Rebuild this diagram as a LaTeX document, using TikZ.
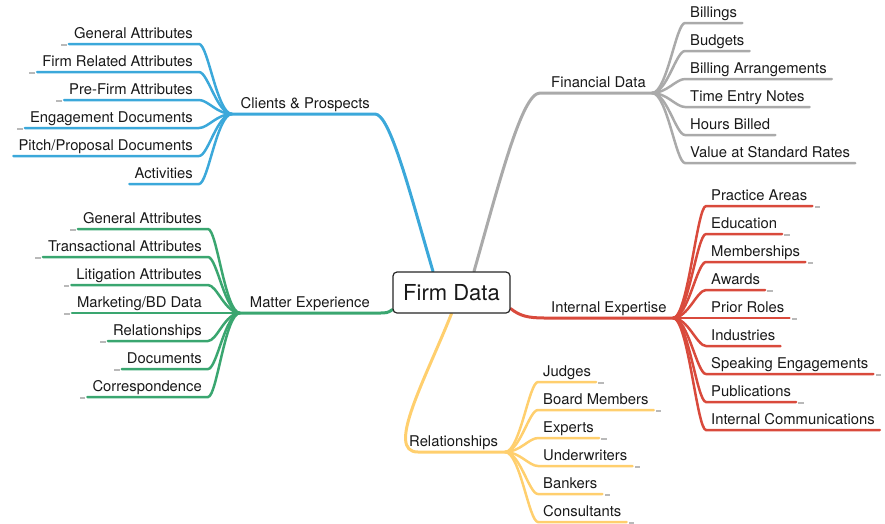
\documentclass[tikz,border=0pt]{standalone}
\usepackage{fontspec}
\setmainfont{TeX Gyre Heros}
\usetikzlibrary{calc}
\definecolor{cblue}{RGB}{59,168,218}
\definecolor{cgreen}{RGB}{58,166,112}
\definecolor{cgray}{RGB}{170,170,170}
\definecolor{cred}{RGB}{217,74,60}
\definecolor{cyellow}{RGB}{255,207,110}
\definecolor{cdash}{RGB}{185,185,185}
\definecolor{ctext}{RGB}{25,25,25}
\pgfdeclarelayer{bg}
\pgfsetlayers{bg,main}
\newcommand\leafL[6]{%
  \node[leaf,anchor=base east] (#1) at (#4,#5-6) {#6};
  \draw[#3] (#2) .. controls +(-15,0) and +(9,0) .. ([shift={(6,6)}]#1.base east) -- ([shift={(-5,6)}]#1.base west);
}
\newcommand\leafR[6]{%
  \node[leaf,anchor=base west] (#1) at (#4,#5-6) {#6};
  \draw[#3] (#2) .. controls +(15,0) and +(-9,0) .. ([shift={(-5,6)}]#1.base west) -- ([shift={(5,6)}]#1.base east);
}
\newcommand\foldL[1]{\node[fold,anchor=east] (#1f) at ([shift={(-7,7)}]#1.base west) {};}
\newcommand\foldR[1]{\node[fold,anchor=west] (#1f) at ([shift={(7,7)}]#1.base east) {};}
\begin{document}
\begin{tikzpicture}[x=1pt,y=-1pt,
  leaf/.style={inner sep=0pt,text=ctext,font=\fontsize{14.8}{17}\selectfont},
  branchlabel/.style={inner sep=0pt,text=ctext,font=\fontsize{14.8}{17}\selectfont},
  fold/.style={rectangle,fill=cdash,draw=none,inner sep=0pt,minimum width=5.5pt,minimum height=2.5pt},
  root/.style={draw=black!85,line width=1.2pt,rounded corners=4pt,fill=white,minimum width=117pt,minimum height=41pt,inner sep=0pt,text=ctext,font=\fontsize{22}{26}\selectfont},
  lb/.style={cblue,line width=2.5pt,line cap=round},
  lg/.style={cgreen,line width=2.5pt,line cap=round},
  lgr/.style={cgray,line width=2.5pt,line cap=round},
  lr/.style={cred,line width=2.5pt,line cap=round},
  ly/.style={cyellow,line width=2.5pt,line cap=round},
  main/.style={line width=3pt,line cap=round}]
\useasboundingbox (0,0) rectangle (885,523);

% root
\node[root] (root) at (451.5,292.5) {Firm Data};

% hubs
\coordinate (B) at (232,114);
\coordinate (G) at (240,313);
\coordinate (F) at (652,93);
\coordinate (R) at (673,318);
\coordinate (Y) at (505,452);

% main branches
\begin{pgfonlayer}{bg}
\draw[lb,main] ($(root.north)+(-18.5,0)$) .. controls (410,193) and (390,114) .. (375,114) -- (B);
\draw[lgr,main] ($(root.north)+(22.5,0)$) .. controls (500,180) and (522,93) .. (540,93) -- (F);
\draw[lg,main] ($(root.south west)+(0,-4)$) .. controls (388,313) and (386,313) .. (378,313) -- (G);
\draw[lr,main] ($(root.south east)+(0,-5)$) .. controls (520,316) and (528,318) .. (545,318) -- (R);
\draw[ly,main] (root.south) .. controls (425,380) and (385,452) .. (418,452) -- (Y);
\end{pgfonlayer}

% branch labels
\node[branchlabel,anchor=base east] (lc) at (370,108) {Clients \& Prospects};
\node[branchlabel,anchor=base east] (lm) at (370,307) {Matter Experience};
\node[branchlabel,anchor=base west] (lf) at (551,87) {Financial Data};
\node[branchlabel,anchor=base west] (li) at (551,312) {Internal Expertise};
\node[branchlabel,anchor=base west] (lrel) at (409,446) {Relationships};

% Clients & Prospects
\leafL{c1}{B}{lb}{193}{44}{General Attributes}\foldL{c1}
\leafL{c2}{B}{lb}{193}{72}{Firm Related Attributes}\foldL{c2}
\leafL{c3}{B}{lb}{193}{100}{Pre-Firm Attributes}\foldL{c3}
\leafL{c4}{B}{lb}{193}{128}{Engagement Documents}\foldL{c4}
\leafL{c5}{B}{lb}{193}{156}{Pitch/Proposal Documents}
\leafL{c6}{B}{lb}{193}{184}{Activities}

% Matter Experience
\leafL{m1}{G}{lg}{202}{229}{General Attributes}\foldL{m1}
\leafL{m2}{G}{lg}{202}{257}{Transactional Attributes}\foldL{m2}
\leafL{m3}{G}{lg}{202}{285}{Litigation Attributes}\foldL{m3}
\leafL{m4}{G}{lg}{202}{313}{Marketing/BD Data}\foldL{m4}
\leafL{m5}{G}{lg}{202}{341}{Relationships}\foldL{m5}
\leafL{m6}{G}{lg}{202}{369}{Documents}\foldL{m6}
\leafL{m7}{G}{lg}{202}{397}{Correspondence}\foldL{m7}

% Financial Data
\leafR{f1}{F}{lgr}{690}{23}{Billings}
\leafR{f2}{F}{lgr}{690}{51}{Budgets}
\leafR{f3}{F}{lgr}{690}{79}{Billing Arrangements}
\leafR{f4}{F}{lgr}{690}{107}{Time Entry Notes}
\leafR{f5}{F}{lgr}{690}{135}{Hours Billed}
\leafR{f6}{F}{lgr}{690}{163}{Value at Standard Rates}

% Internal Expertise
\leafR{i1}{R}{lr}{711}{206}{Practice Areas}\foldR{i1}
\leafR{i2}{R}{lr}{711}{234}{Education}\foldR{i2}
\leafR{i3}{R}{lr}{711}{262}{Memberships}\foldR{i3}
\leafR{i4}{R}{lr}{711}{290}{Awards}\foldR{i4}
\leafR{i5}{R}{lr}{711}{318}{Prior Roles}\foldR{i5}
\leafR{i6}{R}{lr}{711}{346}{Industries}
\leafR{i7}{R}{lr}{711}{374}{Speaking Engagements}\foldR{i7}
\leafR{i8}{R}{lr}{711}{402}{Publications}\foldR{i8}
\leafR{i9}{R}{lr}{711}{430}{Internal Communications}

% Relationships
\leafR{r1}{Y}{ly}{543}{382}{Judges}\foldR{r1}
\leafR{r2}{Y}{ly}{543}{410}{Board Members}\foldR{r2}
\leafR{r3}{Y}{ly}{543}{438}{Experts}\foldR{r3}
\leafR{r4}{Y}{ly}{543}{466}{Underwriters}\foldR{r4}
\leafR{r5}{Y}{ly}{543}{494}{Bankers}\foldR{r5}
\leafR{r6}{Y}{ly}{543}{522}{Consultants}\foldR{r6}
\end{tikzpicture}
\end{document}
